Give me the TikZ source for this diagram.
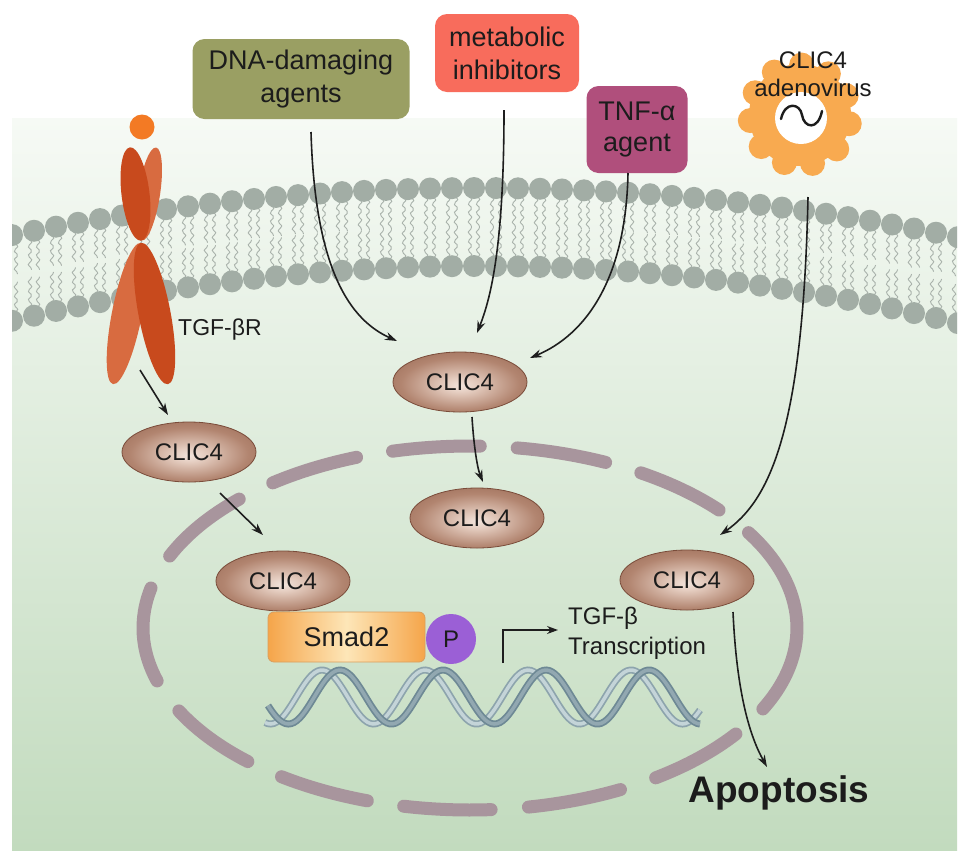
\documentclass[tikz,border=0pt]{standalone}
\usepackage{fontspec}
\setmainfont{Liberation Sans}
\usetikzlibrary{shapes.geometric,arrows.meta}
\definecolor{txt}{HTML}{1C1C1C}
\definecolor{panelT}{HTML}{F6FAF5}
\definecolor{panelM}{HTML}{D9EAD6}
\definecolor{panelB}{HTML}{C2DBBE}
\definecolor{headc}{HTML}{A2ADA5}
\definecolor{tailc}{HTML}{A9B2AB}
\definecolor{nucc}{HTML}{A8959D}
\definecolor{dnabox}{HTML}{9A9F63}
\definecolor{metbox}{HTML}{F86C5C}
\definecolor{tnfbox}{HTML}{B04F7C}
\definecolor{gearc}{HTML}{F8AA50}
\definecolor{ligc}{HTML}{F37A24}
\definecolor{lobeD}{HTML}{C84A1D}
\definecolor{lobeL}{HTML}{D86B40}
\definecolor{pcol}{HTML}{9B5FD6}
\definecolor{smadO}{HTML}{F5A54A}
\definecolor{smadL}{HTML}{FDE6B8}
\definecolor{smadE}{HTML}{D99E5E}
\definecolor{clicA}{HTML}{F2E4DC}
\definecolor{clicB}{HTML}{E4CCBF}
\definecolor{clicC}{HTML}{B28570}
\definecolor{clicD}{HTML}{8D5D48}
\definecolor{clicE}{HTML}{7B4D3A}
\definecolor{clicedge}{HTML}{7A4C3A}
\definecolor{strLo}{HTML}{8DA4AD}
\definecolor{strLi}{HTML}{C4D4D8}
\definecolor{strDo}{HTML}{6E8995}
\definecolor{strDi}{HTML}{92A8B1}
\definecolor{arrc}{HTML}{1E1E1E}
\pgfdeclareradialshading{clicshade}{\pgfpoint{0bp}{-3bp}}{color(0bp)=(clicA); color(6bp)=(clicB); color(22bp)=(clicC); color(40bp)=(clicD); color(50bp)=(clicE)}
\begin{document}
\begin{tikzpicture}[x=1pt,y=-1pt,
  clic/.style={ellipse, minimum width=134pt, minimum height=60pt, inner sep=0pt, draw=clicedge, line width=0.8pt, shading=clicshade, text=txt, font=\fontsize{24}{28}\selectfont},
  boxn/.style={rounded corners=12pt, inner sep=0pt, align=center, text=txt, font=\fontsize{27}{33}\selectfont},
  arr/.style={draw=arrc, line width=1.6pt, -{Stealth[length=12pt,width=8pt]}},
  lbl/.style={text=txt, inner sep=0pt, font=\fontsize{24}{30}\selectfont},
  tail/.style={draw=tailc, line width=0.9pt},
  nucl/.style={draw=nucc, line width=13pt, line cap=round}
]
\useasboundingbox (0,0) rectangle (969,863);
\fill[white] (0,0) rectangle (969,863);
\shade[top color=panelT, middle color=panelM, bottom color=panelB] (12,118) rectangle (957,850);

% nucleus envelope (dashes drawn as separate arcs)
\foreach \ta/\tb in {35.6/55.4, 62.6/79.7, 86.3/101.7, 108.3/125.2, 132.8/152.9, 163.1/192.7, 203.3/225.1, 232.9/249.7, 256.3/271.8, 278.3/294.5, 301.5/319.6, 328.4/386.4}{
  \draw[nucl] (470,628) ++(\ta:327 and 182) arc[start angle=\ta, end angle=\tb, x radius=327, y radius=182];
}

% membrane
\begin{scope}
\clip (12,118) rectangle (957,850);
\foreach \i in {0,...,43}{
  \pgfmathsetmacro{\xx}{12+22*\i}
  \pgfmathsetmacro{\dd}{((\xx-480)/100)*((\xx-480)/100)}
  \pgfmathsetmacro{\yt}{188+2.15*\dd}
  \pgfmathsetmacro{\yb}{266+2.5*\dd}
  \foreach \o in {-4,4}{
    \draw[tail] plot[domain=0:30, samples=13, smooth] ({\xx+\o+1.8*sin(\x*40)}, {\yt+9+\x});
    \draw[tail] plot[domain=0:30, samples=13, smooth] ({\xx+\o+1.8*sin(\x*40)}, {\yb-9-\x});
  }
}
\foreach \i in {0,...,43}{
  \pgfmathsetmacro{\xx}{12+22*\i}
  \pgfmathsetmacro{\dd}{((\xx-480)/100)*((\xx-480)/100)}
  \pgfmathsetmacro{\yt}{188+2.15*\dd}
  \pgfmathsetmacro{\yb}{266+2.5*\dd}
  \fill[headc] (\xx,\yt) circle[radius=11];
  \fill[headc] (\xx,\yb) circle[radius=11];
}
\end{scope}

% receptor
\fill[ligc] (142,127) circle[radius=12.5];
\fill[lobeL, rotate around={81.3:(149,194)}] (149,194) ellipse [x radius=47, y radius=11];
\fill[lobeD, rotate around={96.8:(135.5,194)}] (135.5,194) ellipse [x radius=47, y radius=14];
\fill[lobeL, rotate around={78.8:(127,313.5)}] (127,313.5) ellipse [x radius=72, y radius=15];
\fill[lobeD, rotate around={100.8:(154.5,313.5)}] (154.5,313.5) ellipse [x radius=72, y radius=16];
\node[lbl, anchor=west, font=\fontsize{23}{28}\selectfont] (tgfr) at (178,330) {TGF-βR};

% stimulus boxes
\node[boxn, fill=dnabox, minimum width=217pt, minimum height=80pt] (dna) at (301,79) {DNA-damaging\\agents};
\node[boxn, fill=metbox, minimum width=144pt, minimum height=78pt] (met) at (507,53) {metabolic\\inhibitors};
\node[boxn, fill=tnfbox, minimum width=101pt, minimum height=87pt, font=\fontsize{27}{31}\selectfont] (tnf) at (637,129.5) {TNF-α\\agent};

% adenovirus
\fill[gearc] (800,115) circle[radius=51];
\foreach \a in {0,32.73,...,359}{
  \fill[gearc] (800,115) ++(\a+10:50) circle[radius=12.5];
}
\fill[white] (801,118) circle[radius=26];
\draw[txt, line width=2.4pt, line cap=round] (781,119) .. controls (785,101) and (800,103) .. (802,115) .. controls (804,128) and (818,131) .. (822,111);
\node[lbl, align=center, font=\fontsize{24}{28}\selectfont] (adv) at (813,74) {CLIC4\\adenovirus};

% CLIC4 nodes
\node[clic] (c1) at (460,382) {CLIC4};
\node[clic] (c2) at (189,452) {CLIC4};
\node[clic] (c3) at (477,518) {CLIC4};
\node[clic] (c4) at (283,581) {CLIC4};
\node[clic] (c5) at (687,580) {CLIC4};

% DNA helix
\draw[strLo, line width=7pt] plot[domain=265:700, samples=150, smooth] (\x, {697-27*cos((\x-322)/103*360)});
\draw[strLi, line width=3.5pt] plot[domain=265:700, samples=150, smooth] (\x, {697-27*cos((\x-322)/103*360)});
\draw[strDo, line width=7pt] plot[domain=268:700, samples=150, smooth] (\x, {697-27*cos((\x-340)/103*360)});
\draw[strDi, line width=3.5pt] plot[domain=268:700, samples=150, smooth] (\x, {697-27*cos((\x-340)/103*360)});

% Smad2 and P
\node[draw=smadE, line width=0.8pt, rounded corners=6pt, left color=smadO, right color=smadO, middle color=smadL, minimum width=157pt, minimum height=50pt, inner sep=0pt, text=txt, font=\fontsize{27}{30}\selectfont] (smad) at (346.5,637) {Smad2};
\node[circle, fill=pcol, minimum size=50pt, inner sep=0pt, text=txt, font=\fontsize{24}{28}\selectfont] (p) at (451,639) {P};

% transcription
\coordinate (trs) at (503,663);
\coordinate (tre) at (558,630);
\draw[arr, line width=1.4pt, -{Stealth[length=11pt,width=8pt]}] (trs) |- (tre);
\node[lbl, anchor=west, align=left] (trans) at (568,633) {TGF-β\\Transcription};

% apoptosis
\node[text=txt, inner sep=0pt, font=\bfseries\fontsize{37}{40}\selectfont] (apo) at (779,793) {Apoptosis};

% arrows
\coordinate (a1s) at (140,370);  \coordinate (a1e) at (168,415);
\coordinate (a2s) at (220,493);  \coordinate (a2e) at (263,535);
\coordinate (a3s) at (311,132);  \coordinate (a3e) at (397,341);
\coordinate (a4s) at (504,110);  \coordinate (a4e) at (477,333);
\coordinate (a5s) at (628,173);  \coordinate (a5e) at (530,358);
\coordinate (a6s) at (808,197);  \coordinate (a6e) at (720,535);
\coordinate (a7s) at (472,417);  \coordinate (a7e) at (483,482);
\coordinate (a8s) at (733,612);  \coordinate (a8e) at (767,767);
\draw[arr] (a1s) -- (a1e);
\draw[arr] (a2s) -- (a2e);
\draw[arr] (a3s) .. controls (315,270) and (350,320) .. (a3e);
\draw[arr] (a4s) .. controls (504,250) and (490,300) .. (a4e);
\draw[arr] (a5s) .. controls (626,280) and (585,335) .. (a5e);
\draw[arr] (a6s) .. controls (803,430) and (770,500) .. (a6e);
\draw[arr] (a7s) .. controls (474,450) and (478,470) .. (a7e);
\draw[arr] (a8s) .. controls (737,700) and (752,740) .. (a8e);
\end{tikzpicture}
\end{document}
